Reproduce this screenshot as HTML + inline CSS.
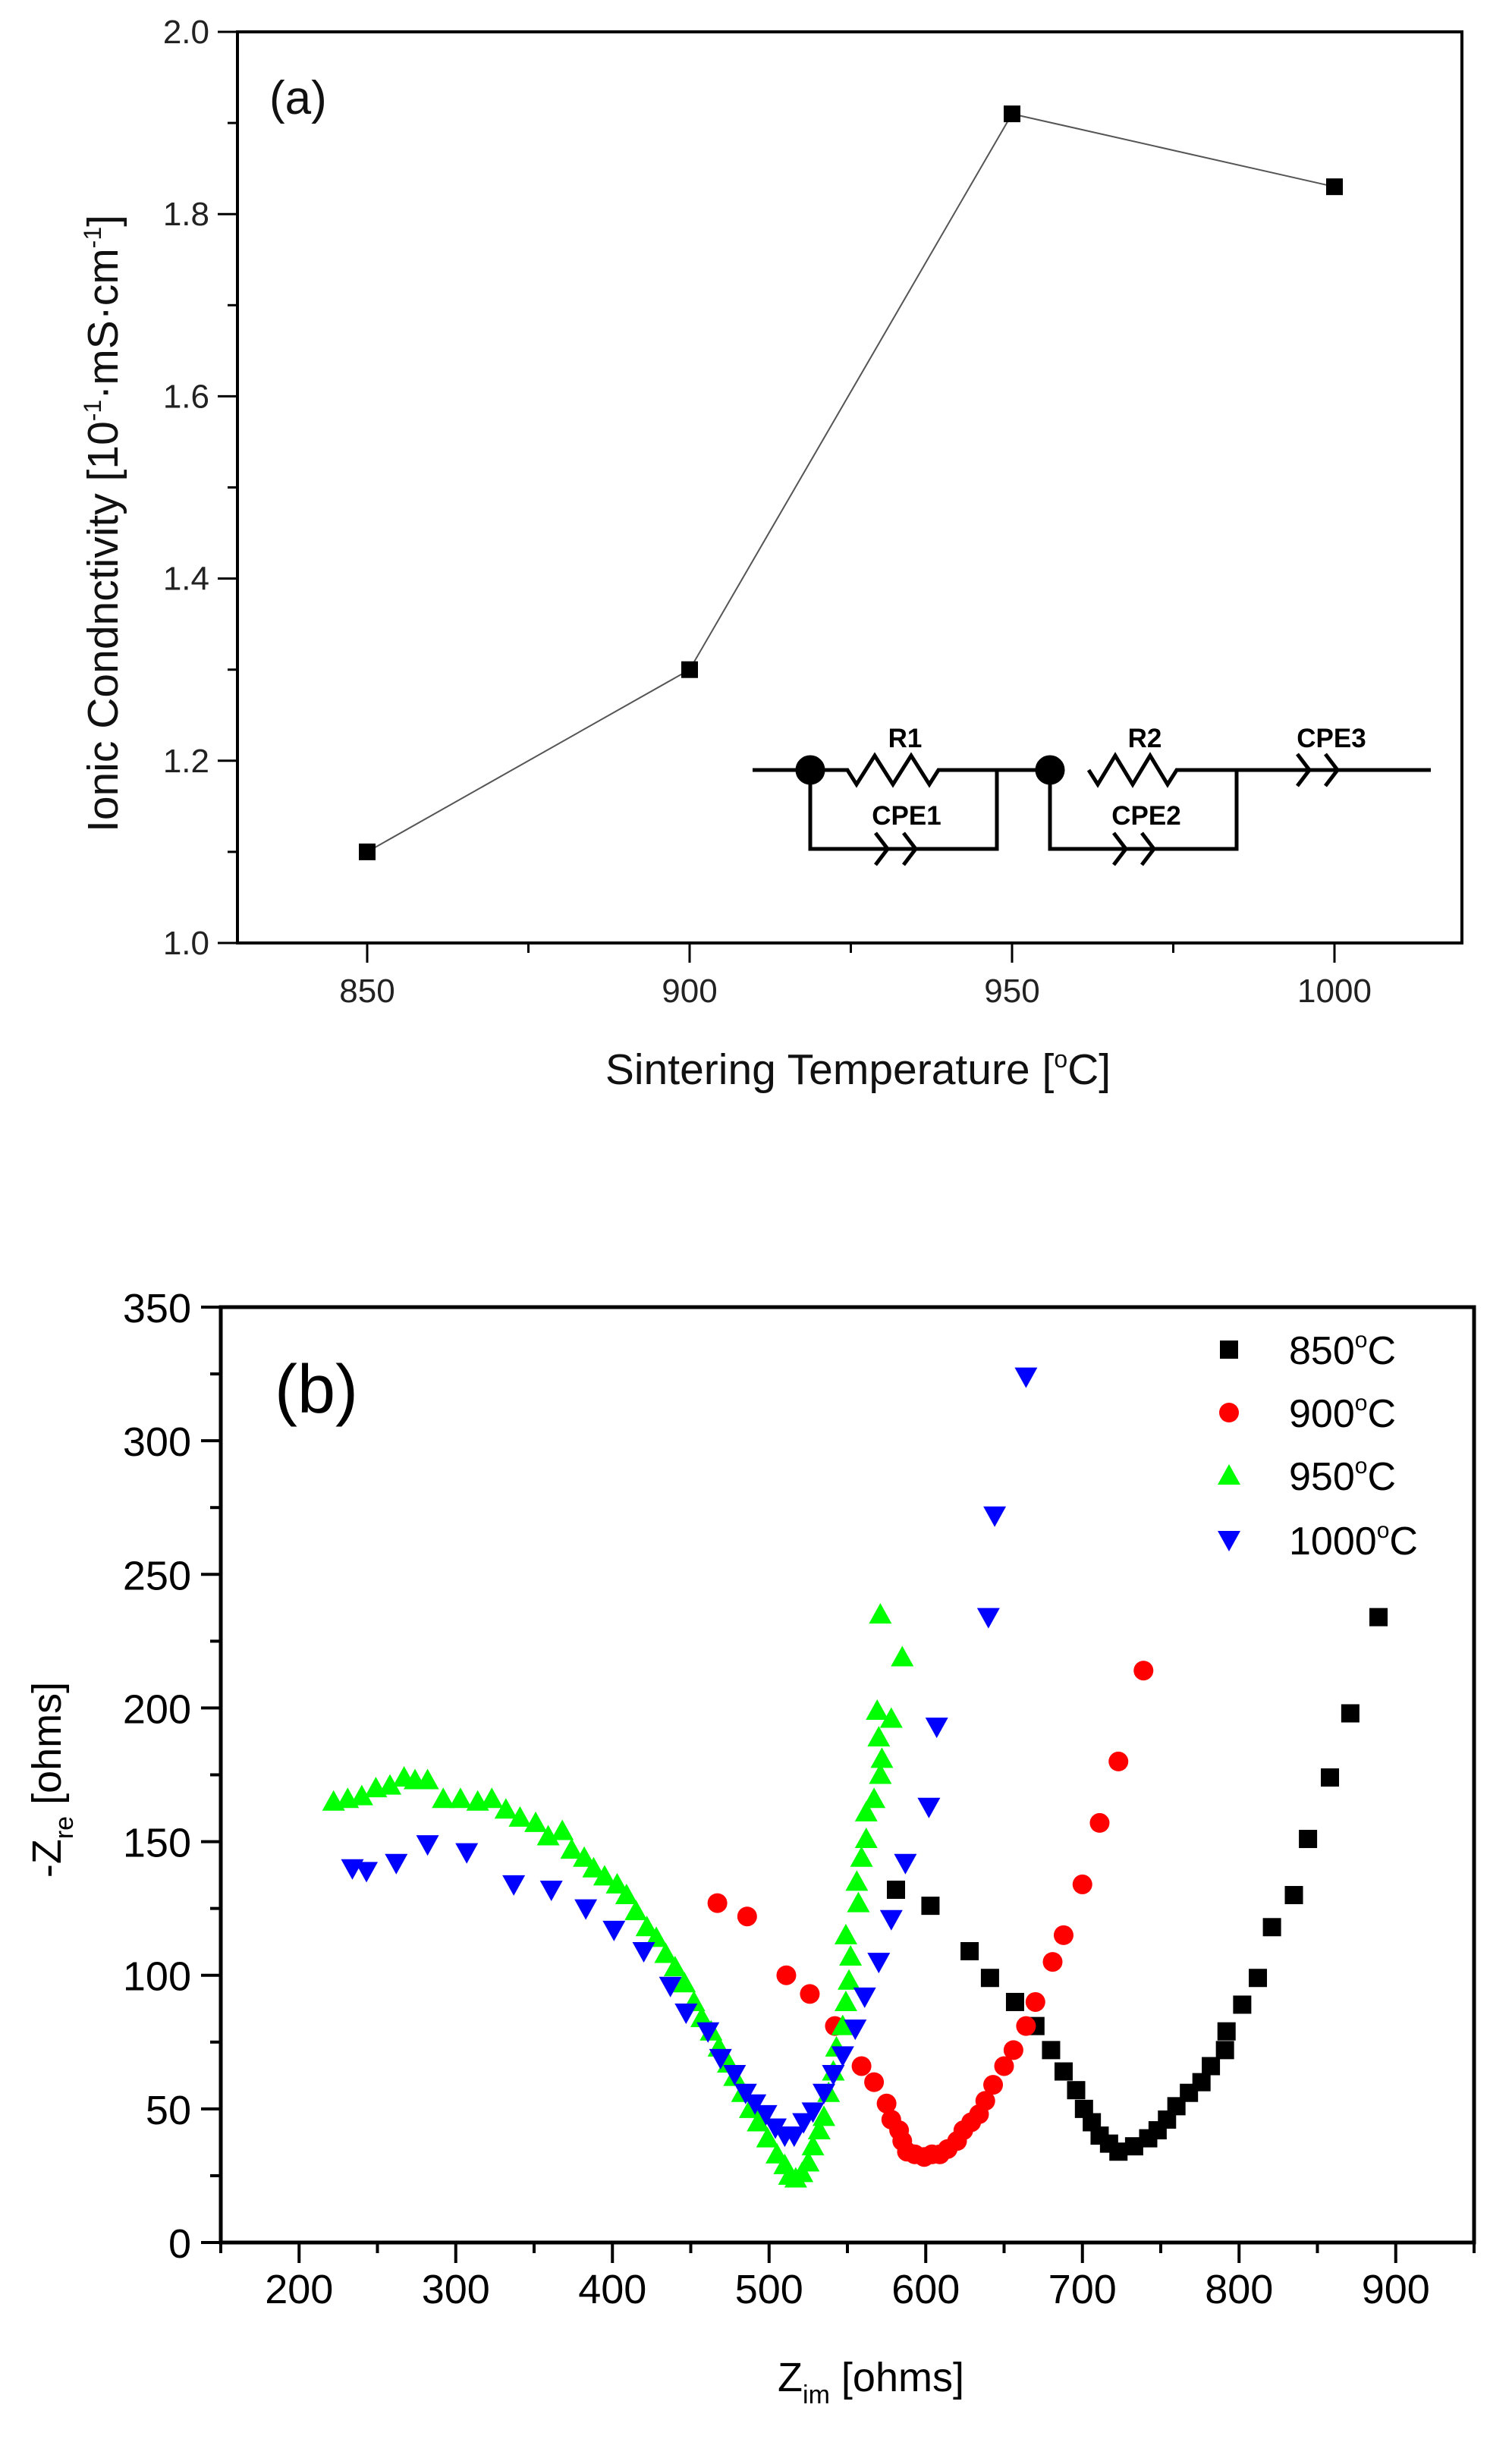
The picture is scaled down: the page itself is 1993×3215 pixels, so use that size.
<!DOCTYPE html>
<html><head><meta charset="utf-8"><style>
html,body{margin:0;padding:0;background:#fff;}
svg{display:block;font-family:"Liberation Sans",sans-serif;}
</style></head><body>
<svg id="svg" width="1993" height="3215" viewBox="0 0 1993 3215" xmlns="http://www.w3.org/2000/svg">
<g id="ga"></g>
<g id="circuit" stroke="#000" stroke-width="5" fill="none">
  <path d="M992 1015 H1117 l12 19 l24 -38 l24 38 l24 -38 l24 38 l12 -19 H1384 M1435 1015 l12 19 l23 -38 l23 38 l23 -38 l23 38 l12 -19 H1886"/>
  <path d="M1068 1015 V1119 H1314 V1015 M1384 1015 V1119 H1630 V1015"/>
  <path d="M1154 1098 l16 21 l-16 21 M1191 1098 l16 21 l-16 21"/>
  <path d="M1468 1098 l16 21 l-16 21 M1505 1098 l16 21 l-16 21"/>
  <path d="M1710 994 l16 21 l-16 21 M1747 994 l16 21 l-16 21"/>
  <circle cx="1068" cy="1015" r="17" fill="#000"/><circle cx="1384" cy="1015" r="17" fill="#000"/>
  <g stroke="none" fill="#000" font-weight="bold" font-size="35" text-anchor="middle">
    <text x="1193" y="985">R1</text>
    <text x="1195" y="1087">CPE1</text>
    <text x="1509" y="985">R2</text>
    <text x="1511" y="1087">CPE2</text>
    <text x="1755" y="985">CPE3</text>
  </g>
</g>
<g id="gb"></g>
</svg>
<script>
// ---- Chart (a) data ----
const tempsA = [850, 900, 950, 1000];
const condA = [1.10, 1.30, 1.91, 1.83];
const xTicksA = [850, 900, 950, 1000];
const yTicksA = [1.0, 1.2, 1.4, 1.6, 1.8, 2.0];
// ---- Chart (b) data ----
const x850 = [581,603,628,641,657,670,680,688,696,701,706,711,717,723,733,742,748,754,760,768,776,782,791,792,802,812,821,835,844,858,871,889];
const y850 = [132,126,109,99,90,81,72,64,57,50,45,40,37,34,36,39,42,46,51,56,60,66,72,79,89,99,118,130,151,174,198,234];
const x900 = [467,486,511,526,542,559,567,575,578,583,585,588,593,599,604,609,614,620,624,629,634,638,643,650,656,664,670,681,688,700,711,723,739];
const y900 = [127,122,100,93,81,66,60,52,46,42,38,34,33,32,33,33,35,38,42,45,48,53,59,66,72,81,90,105,115,134,157,180,214];
const x950 = [222,231,240,249,258,267,274,282,292,303,314,323,332,341,351,359,368,374,382,388,395,403,409,415,422,428,434,440,446,452,457,463,468,474,478,483,488,493,499,505,510,513,517,521,525,528,532,535,538,541,543,547,549,551,552,549,557,556,559,562,562,567,571,572,570,578,569,571,585];
const y950 = [165,166,167,170,171,174,173,173,166,166,165,166,162,159,157,152,154,147,144,140,137,134,130,124,118,114,108,103,97,90,84,79,73,67,62,56,50,45,39,33,29,25,24,26,30,36,42,47,56,64,73,81,90,98,107,115,127,135,144,151,161,166,175,181,189,196,199,235,219];
const x1000 = [234,243,262,282,307,337,361,383,401,420,437,447,461,469,478,485,491,498,504,510,516,522,528,535,541,547,555,561,570,578,587,602,607,640,644,664];
const y1000 = [140,139,142,149,146,134,132,125,117,109,96,86,79,69,63,56,52,48,43,40,40,45,49,56,63,70,80,92,105,121,142,163,193,234,272,324];
const xTicksB = [200,300,400,500,600,700,800,900];
const yTicksB = [0,50,100,150,200,250,300,350];
const legendLabels = ["850","900","950","1000"];

const NS = "http://www.w3.org/2000/svg";
function mk(parent, tag, attrs, txt){const e=document.createElementNS(NS,tag);for(const k in attrs)e.setAttribute(k,attrs[k]);if(txt!==undefined)e.textContent=txt;parent.appendChild(e);return e;}

// ===== Chart A =====
const ga = document.getElementById('ga');
const AL=313, AR=1927, AT=42, AB=1243;
const xa = v => 484 + (v-850)*(1759-484)/150;
const ya = v => AB - (v-1.0)*(AB-AT)/1.0;
let r = mk(ga,'rect',{x:AL,y:AT,width:AR-AL,height:AB-AT,fill:'none',stroke:'#000','stroke-width':4});


for(let v=1.0; v<=2.001; v+=0.1){
  const major = Math.round(v*10)%2===0;
  const t=mk(ga,'line',{x1:AL,x2:AL-(major?26:13),y1:ya(v),y2:ya(v),stroke:'#000','stroke-width':3});
  
  
}
yTicksA.forEach(v=>{
  const t=mk(ga,'text',{x:276,y:ya(v)+15,'font-size':44,'text-anchor':'end',fill:'#222'},v.toFixed(1));
  
  
});
for(let v=850; v<=1000; v+=25){
  const major = v%50===0;
  const t=mk(ga,'line',{x1:xa(v),x2:xa(v),y1:AB,y2:AB+(major?26:13),stroke:'#000','stroke-width':3});
  
  
}
xTicksA.forEach(v=>{
  const t=mk(ga,'text',{x:xa(v),y:1321,'font-size':44,'text-anchor':'middle',fill:'#222'},String(v));
  
  
});
let pts = tempsA.map((t,i)=>xa(t)+','+ya(condA[i])).join(' ');
let pl = mk(ga,'polyline',{points:pts,fill:'none',stroke:'#555','stroke-width':2});


tempsA.forEach((t,i)=>{
  const m=mk(ga,'rect',{x:xa(t)-11,y:ya(condA[i])-11,width:22,height:22,fill:'#000'});
  
  
});
let lab=mk(ga,'text',{x:355,y:150,'font-size':62,fill:'#111'},'(a)');


let xt=mk(ga,'text',{x:1131,y:1429,'font-size':57,'text-anchor':'middle',fill:'#111'});


xt.innerHTML='Sintering Temperature [<tspan dy="-22" font-size="32">o</tspan><tspan dy="22">C]</tspan>';
let yt=mk(ga,'text',{x:0,y:0,'font-size':57,'text-anchor':'middle',fill:'#111',transform:'translate(155,690) rotate(-90)'});


yt.innerHTML='Ionic Condnctivity [10<tspan dy="-22" font-size="32">-1</tspan><tspan dy="22">·mS·cm</tspan><tspan dy="-22" font-size="32">-1</tspan><tspan dy="22">]</tspan>';

// ===== Chart B =====
const gb = document.getElementById('gb');
const BL=291, BR=1943, BT=1723, BB=2956;
const xb = v => BL + (v-150)*(BR-BL)/800;
const yb = v => BB - v*(BB-BT)/350;
r = mk(gb,'rect',{x:BL,y:BT,width:BR-BL,height:BB-BT,fill:'none',stroke:'#000','stroke-width':5});


for(let v=0; v<=350; v+=25){
  const major=v%50===0;
  const t=mk(gb,'line',{x1:BL,x2:BL-(major?26:14),y1:yb(v),y2:yb(v),stroke:'#000','stroke-width':4});
  
  
}
yTicksB.forEach(v=>{
  const t=mk(gb,'text',{x:252,y:yb(v)+20,'font-size':54,'text-anchor':'end',fill:'#000'},String(v));
  
  
});
for(let v=150; v<=950; v+=50){
  const major=v%100===0;
  const t=mk(gb,'line',{x1:xb(v),x2:xb(v),y1:BB,y2:BB+(major?27:14),stroke:'#000','stroke-width':4});
  
  
}
xTicksB.forEach(v=>{
  const t=mk(gb,'text',{x:xb(v),y:3036,'font-size':54,'text-anchor':'middle',fill:'#000'},String(v));
  
  
});
function sq(g,cx,cy){return mk(g,'rect',{x:cx-12,y:cy-12,width:24,height:24,fill:'#000'});}
function ci(g,cx,cy){return mk(g,'circle',{cx:cx,cy:cy,r:13,fill:'#f00'});}
function tu(g,cx,cy){return mk(g,'polygon',{points:`${cx-15},${cy+12} ${cx+15},${cy+12} ${cx},${cy-15}`,fill:'#0f0'});}
function td(g,cx,cy){return mk(g,'polygon',{points:`${cx-15},${cy-12} ${cx+15},${cy-12} ${cx},${cy+15}`,fill:'#00f'});}
const series=[[x850,y850,sq,'series-850'],[x900,y900,ci,'series-900'],[x950,y950,tu,'series-950'],[x1000,y1000,td,'series-1000']];
series.forEach(([xs,ys,f,name])=>{
  const g=mk(gb,'g',{});
  
  
  xs.forEach((x,i)=>{
    const m=f(g,xb(x),yb(ys[i]));
    
    
  });
});
const legY=[1779,1862,1945,2030];
const legF=[sq,ci,tu,td];
legendLabels.forEach((l,i)=>{
  const g=mk(gb,'g',{});
  
  
  legF[i](g,1620,legY[i]);
  const t=mk(g,'text',{x:1699,y:legY[i]+19,'font-size':52,fill:'#000'});
  t.innerHTML=l+'<tspan dy="-22" font-size="30">o</tspan><tspan dy="22">C</tspan>';
});
lab=mk(gb,'text',{x:362,y:1862,'font-size':90,fill:'#000'},'(b)');


xt=mk(gb,'text',{x:1148,y:3152,'font-size':54,'text-anchor':'middle',fill:'#000'});


xt.innerHTML='Z<tspan dy="16" font-size="34">im</tspan><tspan dy="-16"> [ohms]</tspan>';
yt=mk(gb,'text',{x:0,y:0,'font-size':54,'text-anchor':'middle',fill:'#000',transform:'translate(80,2346) rotate(-90)'});


yt.innerHTML='-Z<tspan dy="16" font-size="34">re</tspan><tspan dy="-16"> [ohms]</tspan>';
</script>
</body></html>
